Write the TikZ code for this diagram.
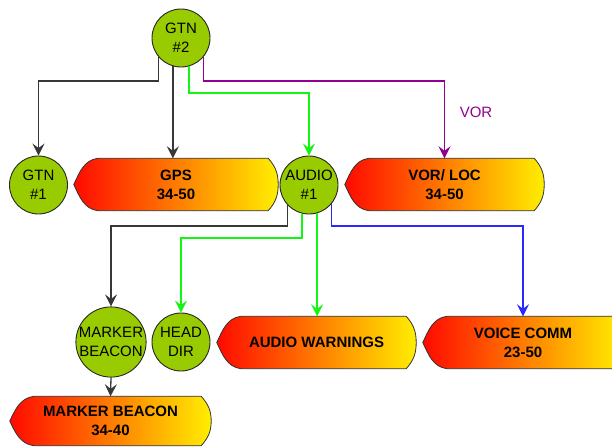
\documentclass[tikz,border=0pt]{standalone}
\usepackage{fontspec}
\setmainfont{Liberation Sans}
\usetikzlibrary{arrows.meta,backgrounds,positioning}
\definecolor{unitgreen}{RGB}{153,204,0}
\definecolor{linkgray}{RGB}{55,55,55}
\definecolor{linkgreen}{RGB}{20,245,20}
\definecolor{linkpurple}{RGB}{145,0,145}
\definecolor{linkblue}{RGB}{40,40,255}
\definecolor{hotred}{RGB}{255,10,0}
\definecolor{midorange}{RGB}{255,140,0}
\definecolor{warmyellow}{RGB}{255,238,0}
\tikzset{>={Stealth[length=12pt,width=12pt,inset=4.5pt]}}
\tikzset{unit/.style={circle, draw=black!85, line width=0.9pt, fill=unitgreen,
    minimum size=58pt, inner sep=0pt, align=center,
    font=\fontsize{15}{18.5}\selectfont}}
\tikzset{readout/.style={rectangle, inner sep=0pt, minimum height=52pt,
    align=center, font=\bfseries\fontsize{15}{19}\selectfont}}
\tikzset{link/.style={->, line width=1.3pt}}

% outline of a readout box, built on the corners of the node
\newcommand{\readoutpath}[1]{%
  ([xshift=24pt]#1.north west) -- ([xshift=-10pt]#1.north east)
  to[out=-48,in=90] (#1.east) to[out=-90,in=48] ([xshift=-10pt]#1.south east)
  -- ([xshift=24pt]#1.south west)
  to[out=172,in=-65] (#1.west) to[out=65,in=188] cycle}
\newcommand{\readoutshape}[1]{%
  \fill[black!22, shift={(1.5pt,-1.5pt)}] \readoutpath{#1};
  \shade[left color=hotred, middle color=midorange, right color=warmyellow,
    draw=black!80, line width=0.8pt] \readoutpath{#1};}

\begin{document}
\begin{tikzpicture}[x=1pt, y=-1pt]
  \useasboundingbox (0,0) rectangle (612,447);
  \clip (0,0) rectangle (612,447);

  % units
  \node[unit] (gtn2) at (181,38) {GTN\\\#2};
  \node[unit] (gtn1) at (38.5,185) {GTN\\\#1};
  \node[unit] (audio1) at (309,185) {AUDIO\\\#1};
  \node[unit] (mbcirc) at (111,342) {MARKER\\BEACON};
  \node[unit] (headdir) at (181,342) {HEAD\\DIR};

  % readouts
  \node[readout, minimum width=204pt] (gps) at (176,184.5) {GPS\\34-50};
  \node[readout, minimum width=199pt] (vorloc) at (444.5,184.5) {VOR/ LOC\\34-50};
  \node[readout, minimum width=199pt] (awarn) at (316.5,342.5) {AUDIO WARNINGS};
  \node[readout, minimum width=200pt] (vcomm) at (523,342.5) {VOICE COMM\\23-50};
  \node[readout, minimum width=201pt, minimum height=49pt] (mbeacon) at (110.5,421) {MARKER BEACON\\34-40};
  \begin{scope}[on background layer]
    \readoutshape{gps}
    \readoutshape{vorloc}
    \readoutshape{awarn}
    \readoutshape{vcomm}
    \readoutshape{mbeacon}
  \end{scope}

  % levels of the horizontal runs
  \coordinate (lvlA) at (0,81);
  \coordinate (lvlG) at (0,93);
  \coordinate (lvlB) at (0,226);
  \coordinate (lvlH) at (0,238);

  % from GTN #2
  \draw[link, linkgray] (gtn2.-139) |- (lvlA -| gtn1.north) -- (gtn1.north);
  \draw[link, linkgray] (gtn2.-106) -- (gtn2.-106 |- gps.north);
  \draw[link, linkgreen] (gtn2.-74) |- (lvlG -| audio1.north) -- (audio1.north);
  \draw[link, linkpurple] (gtn2.-41) |- (lvlA -| vorloc.north) -- (vorloc.north);
  \node[text=linkpurple, font=\fontsize{15}{18}\selectfont] (vorlabel) at (476,112) {VOR};

  % from AUDIO #1
  \draw[link, linkgray] (audio1.-136) |- (lvlB -| mbcirc.north) -- (mbcirc.north);
  \draw[link, linkgreen] (audio1.-104) |- (lvlH -| headdir.north) -- (headdir.north);
  \draw[link, linkgreen] (audio1.-74) -- (audio1.-74 |- awarn.north);
  \draw[link, linkblue] (audio1.-41) |- (lvlB -| vcomm.north) -- (vcomm.north);

  \draw[link, linkgray] (mbcirc.south) -- (mbeacon.north);
\end{tikzpicture}
\end{document}
